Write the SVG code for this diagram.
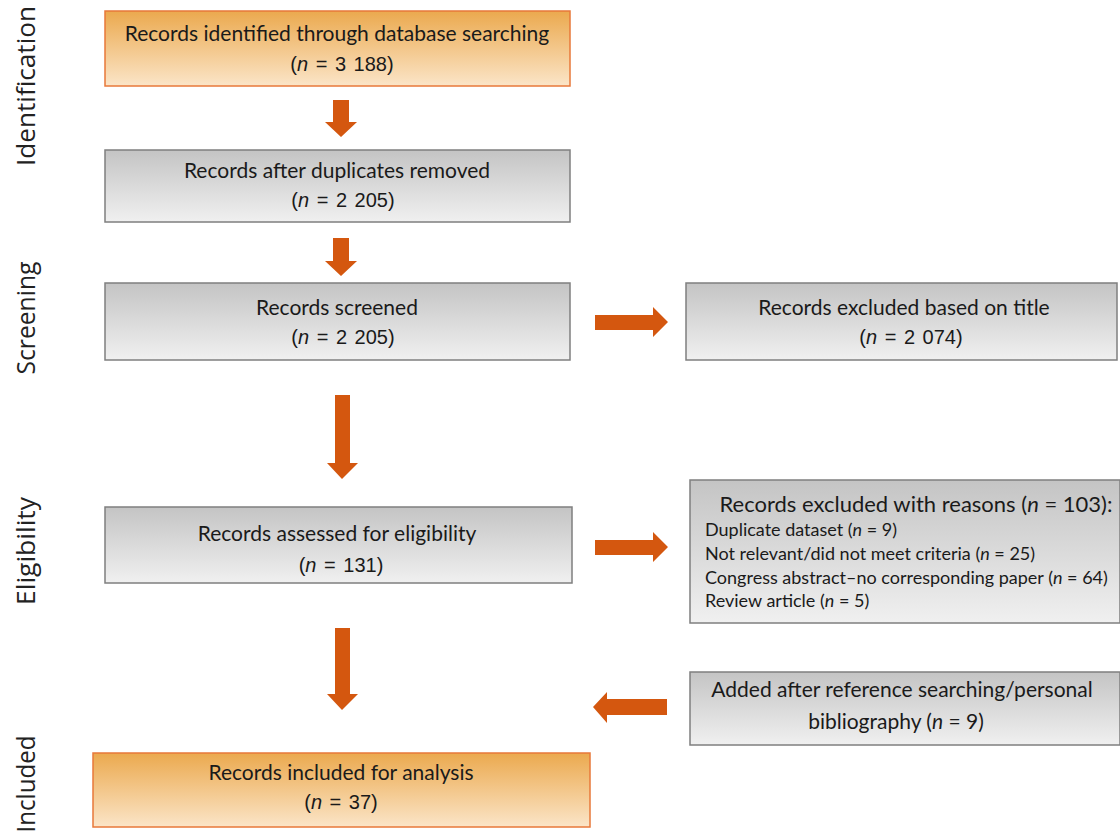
<svg xmlns="http://www.w3.org/2000/svg" width="1120" height="833" viewBox="0 0 1120 833">
<defs>
<linearGradient id="gOr" x1="0" y1="0" x2="0" y2="1">
<stop offset="0" stop-color="#eba94e"/>
<stop offset="1" stop-color="#fbe5c8"/>
</linearGradient>
<linearGradient id="gGr" x1="0" y1="0" x2="0" y2="1">
<stop offset="0" stop-color="#c4c4c4"/>
<stop offset="1" stop-color="#f0f0f0"/>
</linearGradient>
</defs>
<style>
.or{fill:url(#gOr);stroke:#e8783a;stroke-width:1.5}
.gr{fill:url(#gGr);stroke:#7f7f7f;stroke-width:1.5}
.t{font-family:"Lato","Open Sans",sans-serif;font-size:21px;fill:#1a1a1a;text-anchor:middle}
.n{font-family:"Liberation Sans","Arial",sans-serif;font-size:20px;fill:#1a1a1a;text-anchor:middle;word-spacing:2px}
.s{font-family:"Lato","Open Sans",sans-serif;font-size:18px;fill:#1a1a1a}
.side{font-family:"Open Sans","DejaVu Sans",sans-serif;font-size:26px;fill:#222;text-anchor:middle}
.i{font-style:italic}
.arr{fill:#d4570f}
</style>
<g id="side-labels">
<text class="side" transform="translate(35,86) rotate(-90)" textLength="160" lengthAdjust="spacingAndGlyphs">Identification</text>
<text class="side" transform="translate(35,318) rotate(-90)" textLength="113" lengthAdjust="spacingAndGlyphs">Screening</text>
<text class="side" transform="translate(35,551) rotate(-90)" textLength="108" lengthAdjust="spacingAndGlyphs">Eligibility</text>
<text class="side" transform="translate(35,784) rotate(-90)" textLength="97" lengthAdjust="spacingAndGlyphs">Included</text>
</g>
<g id="connectors">
<path class="arr" d="M333,100 H349 V122 H357 L341,137 L325,122 H333 Z"/>
<path class="arr" d="M333,238 H349 V261 H357 L341,276 L325,261 H333 Z"/>
<path class="arr" d="M335,395 H350 V463 H358 L342,479 L327,463 H335 Z"/>
<path class="arr" d="M335,628 H350 V694 H358 L342,710 L327,694 H335 Z"/>
<path class="arr" d="M595,315 V330 H653 V337 L668,322 L653,307 V315 Z"/>
<path class="arr" d="M595,540 V555 H653 V562 L668,547 L653,532 V540 Z"/>
<path class="arr" d="M667,699 V715 H607 V723 L593,707 L607,692 V699 Z"/>
</g>
<g id="n1">
<rect class="or" x="105" y="11" width="465" height="75"/>
<text class="t" x="337" y="41">Records identified through database searching</text>
<text class="n" x="342" y="71">(<tspan class="i">n</tspan> = 3 188)</text>
</g>
<g id="n2">
<rect class="gr" x="105" y="150" width="465" height="72"/>
<text class="t" x="337" y="178">Records after duplicates removed</text>
<text class="n" x="343" y="207">(<tspan class="i">n</tspan> = 2 205)</text>
</g>
<g id="n3">
<rect class="gr" x="105" y="283" width="465" height="77"/>
<text class="t" x="337" y="315">Records screened</text>
<text class="n" x="343" y="344">(<tspan class="i">n</tspan> = 2 205)</text>
</g>
<g id="n4">
<rect class="gr" x="686" y="283" width="431" height="77"/>
<text class="t" x="904" y="315">Records excluded based on title</text>
<text class="n" x="911" y="344">(<tspan class="i">n</tspan> = 2 074)</text>
</g>
<g id="n5">
<rect class="gr" x="105" y="507" width="467" height="76"/>
<text class="t" x="337" y="541">Records assessed for eligibility</text>
<text class="n" x="341" y="572">(<tspan class="i">n</tspan> = 131)</text>
</g>
<g id="n6">
<rect class="gr" x="690" y="480" width="430" height="143"/>
<text class="t" x="916" y="512" style="font-size:22px">Records excluded with reasons (<tspan class="i">n</tspan> = 103):</text>
<text class="s" x="705" y="536">Duplicate dataset (<tspan class="i">n</tspan> = 9)</text>
<text class="s" x="705" y="560">Not relevant/did not meet criteria (<tspan class="i">n</tspan> = 25)</text>
<text class="s" x="705" y="584">Congress abstract–no corresponding paper (<tspan class="i">n</tspan> = 64)</text>
<text class="s" x="705" y="607">Review article (<tspan class="i">n</tspan> = 5)</text>
</g>
<g id="n7">
<rect class="gr" x="690" y="672" width="430" height="73"/>
<text class="t" x="902" y="697">Added after reference searching/personal</text>
<text class="t" x="896" y="729">bibliography (<tspan class="i">n</tspan> = 9)</text>
</g>
<g id="n8">
<rect class="or" x="93" y="753" width="497" height="74"/>
<text class="t" x="341" y="780">Records included for analysis</text>
<text class="n" x="341" y="809">(<tspan class="i">n</tspan> = 37)</text>
</g>
</svg>
